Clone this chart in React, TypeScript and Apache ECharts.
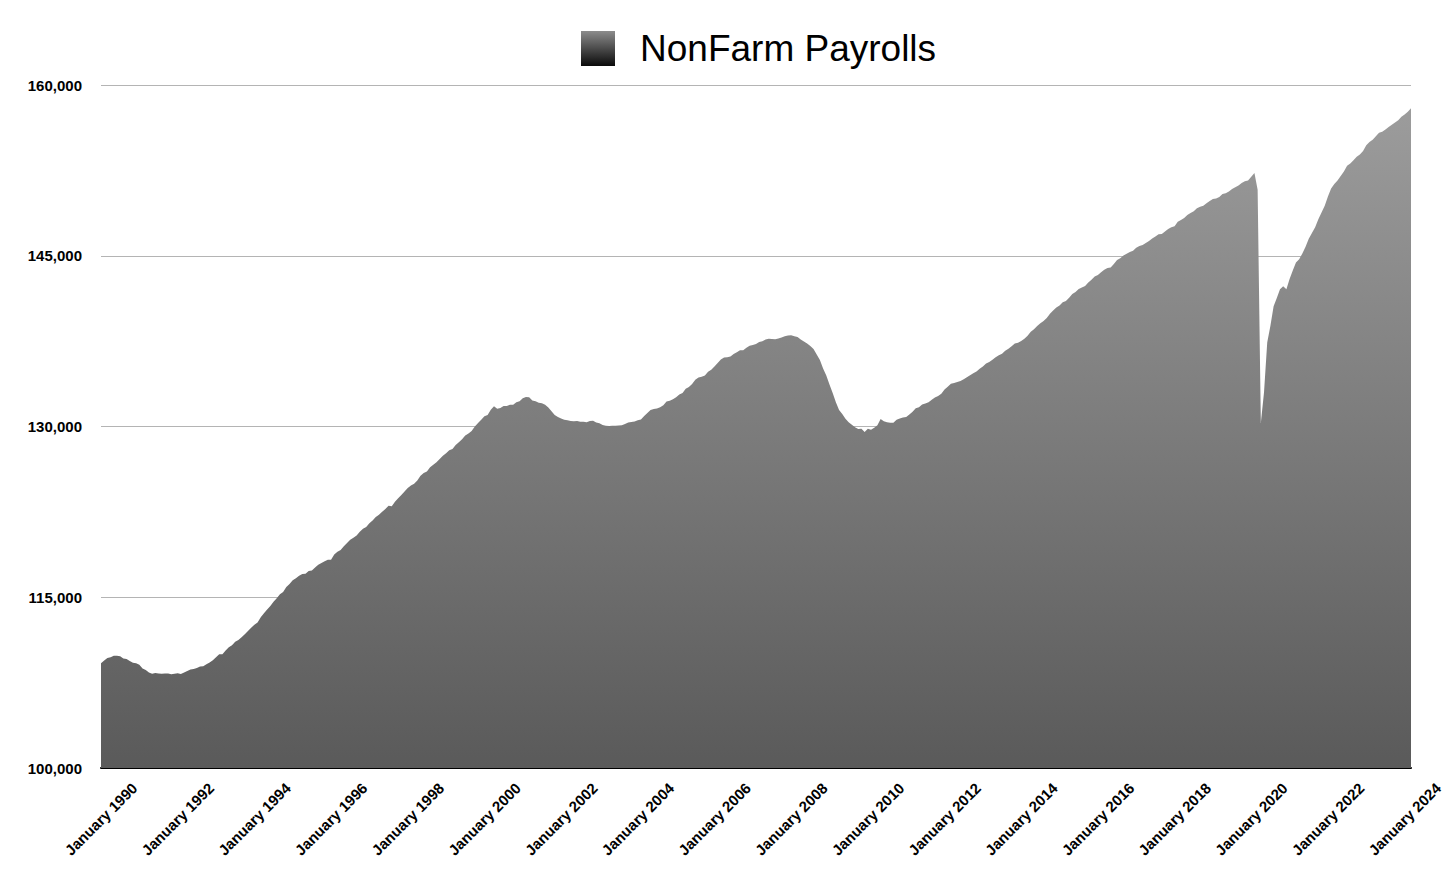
import React, { useEffect, useRef } from "react";
import * as echarts from "echarts";

// ---- Data: Total nonfarm payrolls (thousands), monthly, Jan 1990 – Mar 2024 ----
const monthNames = [
  "January", "February", "March", "April", "May", "June",
  "July", "August", "September", "October", "November", "December",
];
const years = [
  1990, 1991, 1992, 1993, 1994, 1995, 1996, 1997, 1998, 1999, 2000, 2001,
  2002, 2003, 2004, 2005, 2006, 2007, 2008, 2009, 2010, 2011, 2012, 2013,
  2014, 2015, 2016, 2017, 2018, 2019, 2020, 2021, 2022, 2023, 2024,
];

const v1990 = [109200, 109450, 109660, 109720, 109870, 109870, 109810, 109610, 109570, 109400, 109250, 109200];
const v1991 = [109070, 108750, 108600, 108390, 108280, 108340, 108300, 108290, 108310, 108300, 108240, 108270];
const v1992 = [108320, 108260, 108380, 108530, 108650, 108700, 108780, 108910, 108940, 109120, 109260, 109470];
const v1993 = [109740, 109990, 110000, 110330, 110610, 110790, 111080, 111240, 111480, 111750, 112030, 112310];
const v1994 = [112580, 112780, 113240, 113590, 113920, 114230, 114610, 114910, 115260, 115470, 115890, 116170];
const v1995 = [116490, 116660, 116880, 117050, 117060, 117300, 117360, 117620, 117860, 118010, 118160, 118290];
const v1996 = [118300, 118750, 118990, 119140, 119480, 119760, 120050, 120230, 120430, 120750, 121010, 121180];
const v1997 = [121500, 121750, 122060, 122250, 122510, 122760, 123030, 123000, 123390, 123700, 123990, 124290];
const v1998 = [124600, 124820, 124960, 125260, 125680, 125910, 126040, 126420, 126640, 126860, 127150, 127420];
const v1999 = [127650, 127910, 128020, 128380, 128610, 128880, 129200, 129380, 129610, 130000, 130300, 130600];
const v2000 = [130900, 131020, 131480, 131770, 131550, 131630, 131790, 131790, 131910, 131900, 132120, 132210];
const v2001 = [132480, 132600, 132560, 132280, 132220, 132090, 132040, 131910, 131660, 131330, 131000, 130830];
const v2002 = [130700, 130600, 130560, 130480, 130460, 130490, 130420, 130420, 130380, 130490, 130510, 130360];
const v2003 = [130280, 130130, 130060, 130050, 130070, 130060, 130080, 130110, 130220, 130350, 130400, 130450];
const v2004 = [130550, 130610, 130930, 131180, 131450, 131530, 131580, 131690, 131860, 132190, 132260, 132390];
const v2005 = [132570, 132810, 132950, 133310, 133480, 133740, 134110, 134310, 134380, 134470, 134820, 134980];
const v2006 = [135260, 135580, 135880, 136060, 136080, 136160, 136360, 136530, 136690, 136700, 136910, 137090];
const v2007 = [137170, 137250, 137430, 137500, 137640, 137700, 137690, 137660, 137730, 137820, 137920, 138000];
const v2008 = [138020, 137930, 137860, 137650, 137460, 137290, 137080, 136800, 136330, 135850, 135100, 134470];
const v2009 = [133680, 132940, 132140, 131450, 131100, 130690, 130370, 130150, 129930, 129790, 129800, 129520];
const v2010 = [129800, 129710, 129880, 130120, 130660, 130460, 130370, 130330, 130320, 130590, 130700, 130780];
const v2011 = [130830, 131050, 131290, 131600, 131700, 131930, 132010, 132120, 132340, 132550, 132690, 132880];
const v2012 = [133240, 133500, 133750, 133820, 133920, 134000, 134150, 134320, 134510, 134670, 134830, 135070];
const v2013 = [135270, 135540, 135660, 135860, 136080, 136250, 136390, 136650, 136820, 137040, 137290, 137350];
const v2014 = [137520, 137700, 137980, 138320, 138540, 138830, 139060, 139260, 139530, 139900, 140190, 140450];
const v2015 = [140640, 140920, 141020, 141320, 141650, 141820, 142080, 142220, 142340, 142660, 142890, 143180];
const v2016 = [143310, 143560, 143770, 143920, 143970, 144270, 144630, 144790, 145030, 145180, 145340, 145440];
const v2017 = [145700, 145850, 145950, 146130, 146290, 146520, 146700, 146880, 146900, 147130, 147350, 147500];
const v2018 = [147590, 147980, 148130, 148310, 148580, 148760, 148910, 149180, 149300, 149400, 149620, 149800];
const v2019 = [149990, 150020, 150160, 150420, 150490, 150650, 150860, 151020, 151170, 151380, 151550, 151620];
const v2020 = [151930, 152260, 150790, 130310, 133000, 137380, 138840, 140570, 141290, 142050, 142330, 142060];
const v2021 = [142950, 143700, 144400, 144700, 145200, 145800, 146500, 147000, 147500, 148200, 148800, 149400];
const v2022 = [150200, 150900, 151300, 151600, 152000, 152400, 152900, 153100, 153400, 153700, 153900, 154200];
const v2023 = [154700, 155000, 155200, 155500, 155800, 155900, 156100, 156300, 156500, 156700, 156900, 157200];
const v2024 = [157400, 157650, 157950];

const payrolls: number[] = [
  ...v1990, ...v1991, ...v1992, ...v1993, ...v1994, ...v1995, ...v1996, ...v1997,
  ...v1998, ...v1999, ...v2000, ...v2001, ...v2002, ...v2003, ...v2004, ...v2005,
  ...v2006, ...v2007, ...v2008, ...v2009, ...v2010, ...v2011, ...v2012, ...v2013,
  ...v2014, ...v2015, ...v2016, ...v2017, ...v2018, ...v2019, ...v2020, ...v2021,
  ...v2022, ...v2023, ...v2024,
];

const categories: string[] = [];
years.forEach((yr) => {
  monthNames.forEach((m) => {
    if (categories.length < payrolls.length) categories.push(`${m} ${yr}`);
  });
});

const seriesName = "NonFarm Payrolls";
const yMin = 100000;
const yMax = 160000;
const yStep = 15000;

const FONT = '"Liberation Sans", Arial, Helvetica, sans-serif';

export default function App() {
  const ref = useRef<HTMLDivElement>(null);

  useEffect(() => {
    document.body.style.margin = "0";
    if (!ref.current) return;
    const chart = echarts.init(ref.current, undefined, { renderer: "svg" });

    const areaGradient = new echarts.graphic.LinearGradient(0, 0, 0, 1, [
      { offset: 0, color: "#9c9c9c" },
      { offset: 1, color: "#5a5a5a" },
    ]);
    const legendGradient = new echarts.graphic.LinearGradient(0, 0, 0, 1, [
      { offset: 0, color: "#8c8c8c" },
      { offset: 1, color: "#0a0a0a" },
    ]);

    chart.setOption({
      animation: false,
      backgroundColor: "#ffffff",
      textStyle: { fontFamily: FONT },
      legend: {
        left: 576,
        top: 25,
        icon: "rect",
        itemWidth: 34,
        itemHeight: 35,
        selectedMode: false,
        data: [{ name: seriesName, itemStyle: { color: legendGradient } }],
        textStyle: {
          fontFamily: FONT,
          fontSize: 37,
          color: "#000000",
          padding: [0, 0, 0, 20],
        },
      },
      grid: {
        left: 101,
        right: 45,
        top: 85,
        bottom: 109,
        containLabel: false,
        outerBoundsMode: "none",
      },
      xAxis: {
        type: "category",
        data: categories,
        boundaryGap: false,
        axisLine: { show: true, lineStyle: { color: "#000000", width: 2 } },
        axisTick: { show: false },
        splitLine: { show: false },
        axisLabel: {
          interval: (index: number) => index % 24 === 0,
          rotate: 45,
          align: "center",
          verticalAlign: "middle",
          margin: 51,
          color: "#000000",
          fontFamily: FONT,
          fontWeight: "bold",
          fontSize: 15,
          hideOverlap: false,
        },
      },
      yAxis: {
        type: "value",
        min: yMin,
        max: yMax,
        interval: yStep,
        axisLine: { show: false },
        axisTick: { show: false },
        splitLine: { show: true, lineStyle: { color: "#b4b4b4", width: 1 } },
        axisLabel: {
          margin: 19,
          color: "#000000",
          fontFamily: FONT,
          fontWeight: "bold",
          fontSize: 15,
          formatter: (v: number) => v.toLocaleString("en-US"),
        },
      },
      series: [
        {
          name: seriesName,
          type: "line",
          data: payrolls,
          symbol: "none",
          showSymbol: false,
          lineStyle: { width: 0, color: "#7a7a7a" },
          itemStyle: { color: "#7a7a7a" },
          areaStyle: { color: areaGradient, opacity: 1 },
          z: 1,
        },
      ],
    });

    return () => {
      chart.dispose();
    };
  }, []);

  return <div ref={ref} style={{ width: "1456px", height: "877px" }} />;
}
